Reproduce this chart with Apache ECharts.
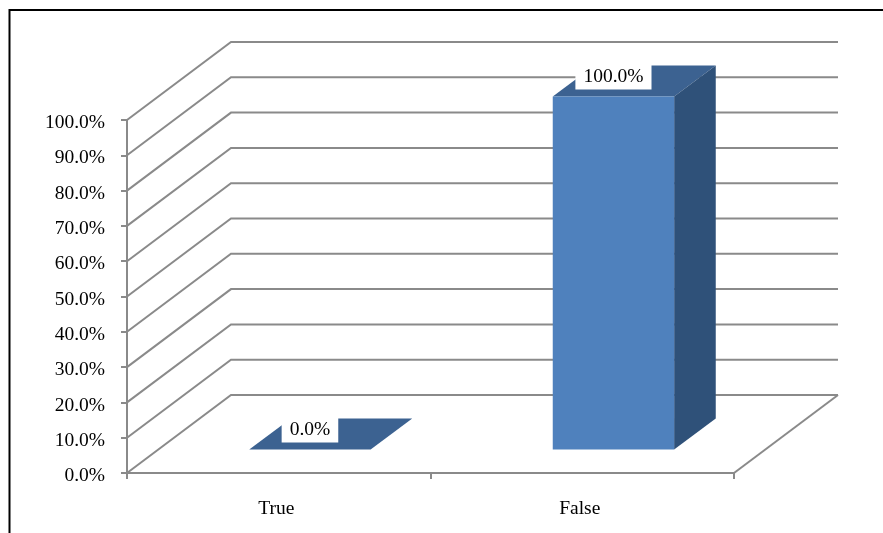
<!DOCTYPE html>
<html>
<head>
<meta charset="utf-8">
<style>
  html, body { margin: 0; padding: 0; background: #fff; }
  #chart { width: 883px; height: 533px; }
</style>
</head>
<body>
<div id="chart"></div>
<script src="https://cdn.jsdelivr.net/npm/echarts@6/dist/echarts.min.js"></script>
<script>
var categories = ['True', 'False'];
var percentValues = [0, 100];
var yTicks = [0, 10, 20, 30, 40, 50, 60, 70, 80, 90, 100];

// oblique projection of the floor depth
var depthX = 104;
var depthY = 78;
var gridColor = '#8a8a8a';
var fontName = '"Liberation Serif", "Times New Roman", serif';

function pct(v) {
    return v.toFixed(1) + '%';
}

// walls and floor outline
function renderWalls(params, api) {
    var cs = params.coordSys;
    var y = api.coord([0, api.value(1)])[1];
    var children = [{
        type: 'polyline',
        shape: { points: [
            [cs.x, y],
            [cs.x + depthX, y - depthY],
            [cs.x + cs.width + depthX, y - depthY]
        ] },
        style: { stroke: gridColor, lineWidth: 2, fill: null }
    }];
    if (api.value(1) === 0) {
        children.push({
            type: 'line',
            shape: { x1: cs.x + cs.width, y1: y, x2: cs.x + cs.width + depthX, y2: y - depthY },
            style: { stroke: gridColor, lineWidth: 2 }
        });
    }
    return { type: 'group', children: children };
}

// box sits between 30% and 70% of the floor depth
function renderBar(params, api) {
    var base = api.coord([api.value(0), 0]);
    var top = api.coord([api.value(0), api.value(1)]);
    var w = api.size([1, 0])[0] * 0.4;
    var x1 = base[0] + depthX * 0.3 - w / 2;
    var x2 = x1 + w;
    var yb = base[1] - depthY * 0.3;
    var yt = top[1] - depthY * 0.3;
    var dx = depthX * 0.4;
    var dy = depthY * 0.4;
    return {
        type: 'group',
        children: [
            {
                type: 'polygon',
                shape: { points: [[x1, yt], [x2, yt], [x2 + dx, yt - dy], [x1 + dx, yt - dy]] },
                style: { fill: '#3C6291' }
            },
            {
                type: 'polygon',
                shape: { points: [[x2, yt], [x2 + dx, yt - dy], [x2 + dx, yb - dy], [x2, yb]] },
                style: { fill: '#2F5179' }
            },
            {
                type: 'rect',
                shape: { x: x1, y: yt, width: w, height: yb - yt },
                style: { fill: '#4F81BD' }
            },
            {
                type: 'text',
                x: (x1 + x2) / 2,
                y: yt - 20,
                style: {
                    text: pct(api.value(1)),
                    font: '19.5px ' + fontName,
                    fill: '#000',
                    align: 'center',
                    verticalAlign: 'middle',
                    backgroundColor: '#fff',
                    padding: [2, 8, 4, 8]
                }
            }
        ]
    };
}

var chart = echarts.init(document.getElementById('chart'));
chart.setOption({
    animation: false,
    backgroundColor: '#fff',
    grid: { left: 127, right: 149, top: 120, bottom: 60 },
    graphic: [{
        type: 'polyline',
        shape: { points: [[9.5, 533], [9.5, 10], [883, 10]] },
        style: { stroke: '#000', lineWidth: 2, fill: null },
        silent: true
    }],
    xAxis: {
        type: 'category',
        data: categories,
        axisLine: { lineStyle: { color: gridColor, width: 2 } },
        axisTick: { show: true, interval: 0, length: 6, lineStyle: { color: gridColor, width: 2 } },
        axisLabel: {
            margin: 26,
            padding: [0, 5, 0, 0],
            color: '#000',
            fontFamily: fontName,
            fontSize: 19.5
        }
    },
    yAxis: {
        type: 'value',
        min: 0,
        max: 100,
        interval: 10,
        splitLine: { show: false },
        axisLine: { show: true, lineStyle: { color: gridColor, width: 2 } },
        axisTick: { show: true, length: 6, lineStyle: { color: gridColor, width: 2 } },
        axisLabel: {
            margin: 22,
            verticalAlign: 'top',
            lineHeight: 6,
            color: '#000',
            fontFamily: fontName,
            fontSize: 19.5,
            formatter: function (v) { return pct(v); }
        }
    },
    series: [
        {
            type: 'custom',
            silent: true,
            z: 1,
            renderItem: renderWalls,
            encode: { x: 0, y: 1 },
            data: yTicks.map(function (v) { return [0, v]; })
        },
        {
            type: 'custom',
            silent: true,
            z: 2,
            renderItem: renderBar,
            encode: { x: 0, y: 1 },
            data: percentValues.map(function (v, i) { return [i, v]; })
        }
    ]
});
</script>
</body>
</html>
